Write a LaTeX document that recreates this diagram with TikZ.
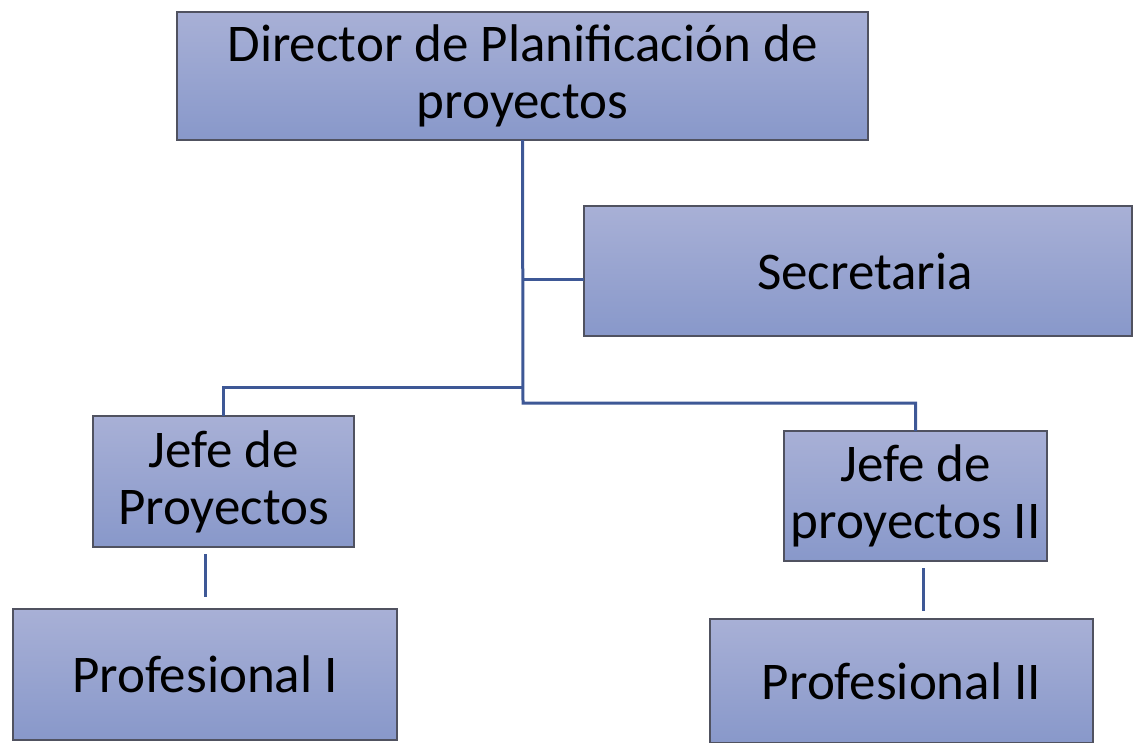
\documentclass[tikz,border=0pt]{standalone}
\usepackage{fontspec}
\setmainfont{Carlito}
\definecolor{boxtop}{RGB}{168,176,214}
\definecolor{boxbot}{RGB}{136,152,202}
\definecolor{boxline}{RGB}{80,82,96}
\definecolor{conn}{RGB}{62,88,150}
\begin{document}
\begin{tikzpicture}[x=1pt,y=-1pt,
  orgbox/.style={draw=boxline,line width=1.3pt,top color=boxtop,bottom color=boxbot,
    inner sep=0pt,outer sep=0pt,align=center,font=\fontsize{53}{57}\selectfont},
  link/.style={draw=conn,line width=3pt}]
\useasboundingbox (0,0) rectangle (1133,742);
\node[orgbox,minimum width=691pt,minimum height=128pt] (dir) at (522.5,76) {Director de Planificación de\\proyectos};
\node[orgbox,minimum width=548pt,minimum height=130pt] (sec) at (858,271) {\hspace*{14pt}Secretaria};
\node[orgbox,minimum width=261pt,minimum height=131pt] (jefeA) at (223.5,481.5) {Jefe de\\Proyectos};
\node[orgbox,minimum width=263pt,minimum height=130pt] (jefeB) at (915.5,496) {Jefe de\\proyectos II};
\node[orgbox,minimum width=384pt,minimum height=131pt] (profA) at (205,674.5) {Profesional I};
\node[orgbox,minimum width=383pt,minimum height=124pt] (profB) at (901.5,681) {Profesional II};
\coordinate (trunk) at (523,403);
\coordinate (jsec) at (523,279);
\coordinate (jA) at (523,387);
\coordinate (pAt) at (205,554);
\coordinate (pAb) at (205,597);
\coordinate (pBt) at (923,568);
\coordinate (pBb) at (923,611);
\draw[link] (dir.south) -- (trunk) -| (jefeB.north);
\draw[link] (jsec) -- (sec.west |- jsec);
\draw[link] (jA) -| (jefeA.north);
\draw[link] (pAt) -- (pAb);
\draw[link] (pBt) -- (pBb);
\end{tikzpicture}
\end{document}
